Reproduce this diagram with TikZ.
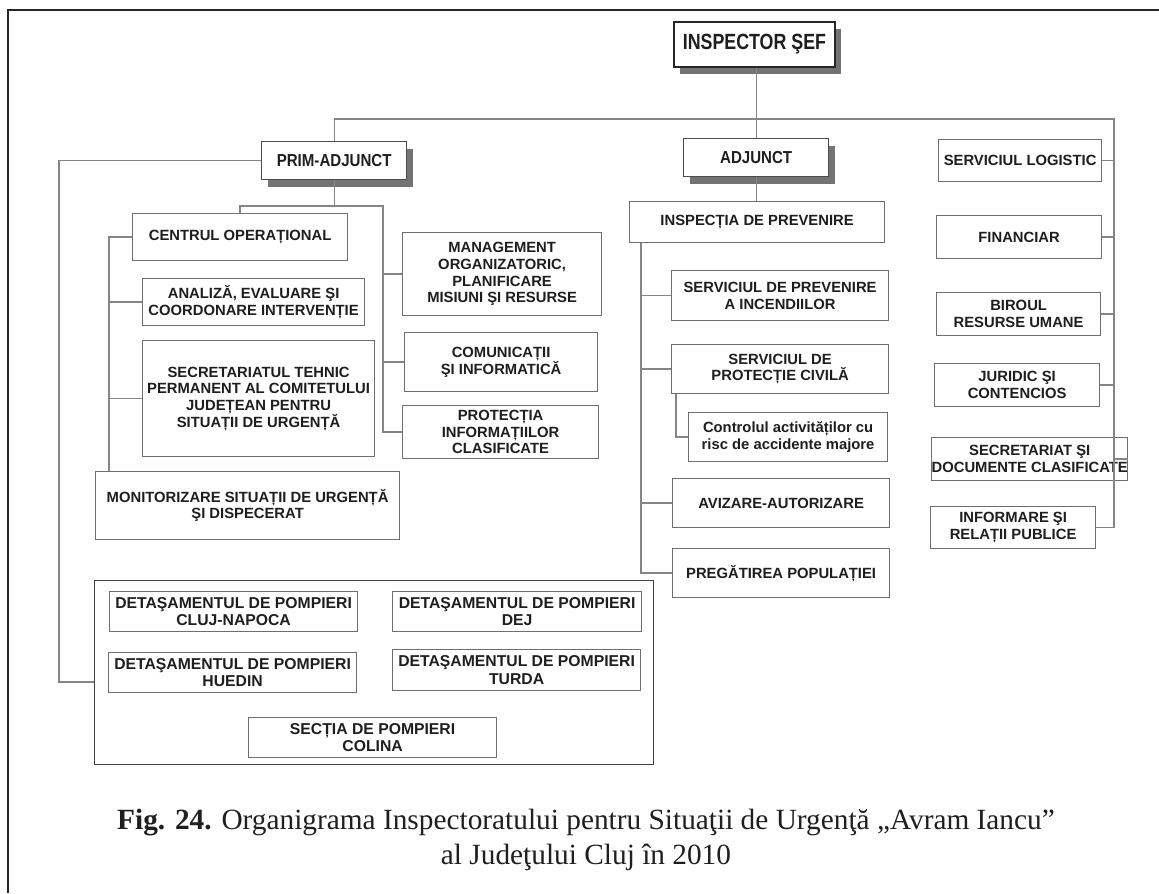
\documentclass[tikz,border=0pt]{standalone}
\usepackage{fontspec}
\setmainfont{Liberation Serif}
\newfontfamily\chartfont{Liberation Sans}
\newfontfamily\narrowA[FakeStretch=0.87]{Liberation Sans}
\newfontfamily\narrowB[FakeStretch=0.81]{Liberation Sans}
\usetikzlibrary{shadows}
\definecolor{linegray}{HTML}{858585}
\definecolor{boxgray}{HTML}{6E6E6E}
\definecolor{txt}{HTML}{1E1E1E}
\tikzset{
  conn/.style={draw=linegray, line width=1.0pt},
  box/.style={draw=boxgray, line width=0.9pt, fill=white, inner sep=0pt, align=center,
    font=\chartfont\bfseries\fontsize{11.1}{12.5}\selectfont, text=txt},
  firebox/.style={box, font=\chartfont\bfseries\fontsize{11.8}{12.8}\selectfont},
  bigbox/.style={box, draw=black!70, line width=1.0pt, font=\narrowA\bfseries\fontsize{13}{14}\selectfont,
    drop shadow={shadow xshift=4.5pt, shadow yshift=-5.5pt, fill=black!55, opacity=1}},
  chiefbox/.style={bigbox, draw=black!85, line width=1.4pt, font=\narrowB\bfseries\fontsize{16.5}{18}\selectfont},
  grpbox/.style={draw=black!75, line width=1.1pt, inner sep=0pt},
}
% \bx[style]{name}{x1}{y1}{x2}{y2}{text}
\newcommand\bx[7][box]{\node[#1, anchor=north west,
  minimum width={(#5-#3)*0.75pt}, minimum height={(#6-#4)*0.75pt}] (#2) at (#3,#4) {#7};}
\begin{document}
\begin{tikzpicture}[x=0.75pt,y=-0.75pt]
\useasboundingbox (0,0) rectangle (1159,893);
% frame
\draw[line width=1.5pt, black!85] (8,893) -- (8,10) -- (1159,10);

% top level
\bx[chiefbox]{chief}{673}{21}{834}{66}{INSPECTOR ŞEF}
\bx[bigbox]{prim}{261}{141}{406}{179}{PRIM-ADJUNCT}
\bx[bigbox]{adj}{683}{138}{828}{176}{ADJUNCT}

% right column
\bx{logi}{938}{139}{1101}{181}{SERVICIUL LOGISTIC}
\bx{fin}{936}{215}{1101}{258}{FINANCIAR}
\bx{hr}{936}{292}{1100}{335}{BIROUL\\RESURSE UMANE}
\bx{jur}{934}{363}{1099}{406}{JURIDIC ŞI\\CONTENCIOS}
\bx{secdoc}{931}{437}{1096}{480}{SECRETARIAT ŞI\\DOCUMENTE CLASIFICATE}
\bx{info}{930}{506}{1095}{548}{INFORMARE ŞI\\RELAȚII PUBLICE}

% middle column
\bx{insp}{629}{201}{884}{242}{INSPECȚIA DE PREVENIRE}
\bx{prev}{671}{270}{888}{320}{SERVICIUL DE PREVENIRE\\A INCENDIILOR}
\bx{prot}{671}{344}{888}{393}{SERVICIUL DE\\PROTECȚIE CIVILĂ}
\bx{ctrl}{688}{412}{887}{461}{Controlul activităților cu\\risc de accidente majore}
\bx{aviz}{672}{478}{889}{527}{AVIZARE-AUTORIZARE}
\bx{preg}{672}{548}{889}{597}{PREGĂTIREA POPULAȚIEI}

% left section
\bx{centr}{132}{213}{347}{260}{CENTRUL OPERAȚIONAL}
\bx{anal}{142}{278}{364}{325}{ANALIZĂ, EVALUARE ŞI\\COORDONARE INTERVENȚIE}
\bx{secr}{142}{340}{374}{456}{SECRETARIATUL TEHNIC\\PERMANENT AL COMITETULUI\\JUDEȚEAN PENTRU\\SITUAȚII DE URGENȚĂ}
\bx{monit}{95}{471}{399}{539}{MONITORIZARE SITUAȚII DE URGENȚĂ\\ŞI DISPECERAT}
\bx{mgmt}{402}{232}{601}{315}{MANAGEMENT\\ORGANIZATORIC,\\PLANIFICARE\\MISIUNI ŞI RESURSE}
\bx{comm}{404}{332}{597}{391}{COMUNICAȚII\\ŞI INFORMATICĂ}
\bx{pcls}{402}{405}{598}{458}{PROTECȚIA\\INFORMAȚIILOR\\CLASIFICATE}

% fire-fighter group
\bx[grpbox]{grp}{94}{580}{653}{764}{}
\bx[firebox]{cluj}{109}{591}{357}{631}{DETAŞAMENTUL DE POMPIERI\\CLUJ-NAPOCA}
\bx[firebox]{dej}{392}{591}{641}{631}{DETAŞAMENTUL DE POMPIERI\\DEJ}
\bx[firebox]{hued}{108}{652}{356}{692}{DETAŞAMENTUL DE POMPIERI\\HUEDIN}
\bx[firebox]{turda}{392}{649}{640}{690}{DETAŞAMENTUL DE POMPIERI\\TURDA}
\bx[firebox]{colina}{248}{717}{496}{757}{SECȚIA DE POMPIERI\\COLINA}

% bus coordinates
\coordinate (busR) at (1114,119);
\coordinate (lh) at (383,206);
\coordinate (lb) at (109,0);
\coordinate (ob) at (59,0);
\coordinate (gc) at (94,682);
\coordinate (mb) at (641,0);
\coordinate (cb) at (676,0);

% connectors: top
\draw[conn] (adj.north) -- (adj.north |- chief.south);
\draw[conn] (prim.north) |- (busR) -- (busR |- info.east) -- (info.east);
\foreach \n in {logi,fin,hr,jur,secdoc}{\draw[conn] (\n.east) -- (\n.east -| busR);}

% left under prim
\draw[conn] (prim.south) -- (prim.south |- lh);
\draw[conn] (centr.north) |- (lh) -- (lh |- pcls.west) -- (pcls.west);
\foreach \n in {mgmt,comm}{\draw[conn] (\n.west) -- (\n.west -| lh);}
\draw[conn] (centr.west) -- (centr.west -| lb) -- (lb |- monit.north);
\foreach \n in {anal,secr}{\draw[conn] (\n.west) -- (\n.west -| lb);}
\draw[conn] (prim.west) -- (prim.west -| ob) -- (ob |- gc) -- (gc);

% middle
\draw[conn] (adj.south) -- (adj.south |- insp.north);
\draw[conn] (insp.south -| mb) -- (mb |- preg.west) -- (preg.west);
\foreach \n in {prev,prot,aviz}{\draw[conn] (\n.west) -- (\n.west -| mb);}
\draw[conn] (prot.south -| cb) |- (ctrl.west);

% caption
\node[font=\fontsize{22}{26}\selectfont, align=center, text=black!88] (cap) at (586,840)
  {\textbf{Fig. 24.} Organigrama Inspectoratului pentru Situaţii de Urgenţă „Avram Iancu”\\al Judeţului Cluj în 2010};
\end{tikzpicture}
\end{document}
